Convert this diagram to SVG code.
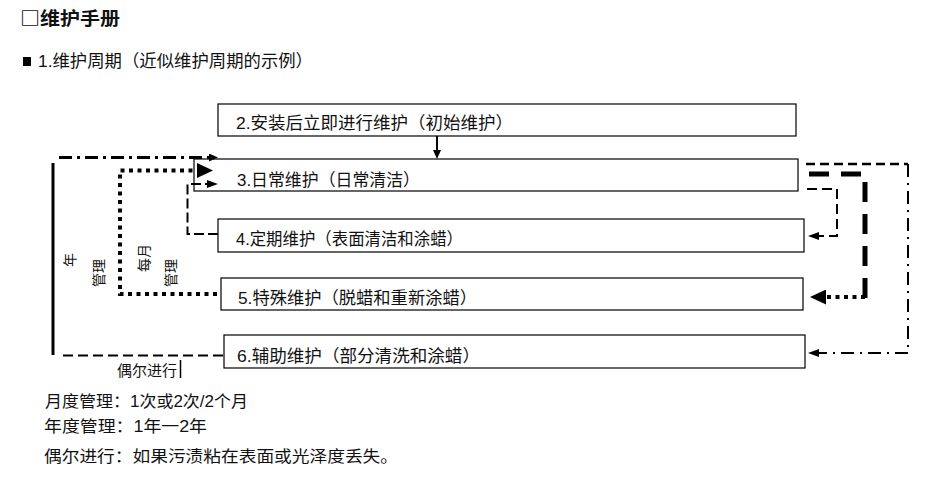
<svg xmlns="http://www.w3.org/2000/svg" width="930" height="479" viewBox="0 0 930 479">
<style>
text{font-family:"Liberation Sans","Noto Sans CJK SC",sans-serif;fill:#111;}
.t{font-size:16px;}
.b{font-size:17px;}
.v{font-size:14px;}
.box{fill:#fff;stroke:#000;stroke-width:1.2;}
.ln{fill:none;stroke:#000;}
</style>
<defs>
<marker id="aS" markerUnits="userSpaceOnUse" markerWidth="9" markerHeight="8" viewBox="0 0 9 8" refX="0" refY="4" orient="auto"><path d="M0,0 L9,4 L0,8 z" fill="#000"/></marker>
<marker id="aM" markerUnits="userSpaceOnUse" markerWidth="11" markerHeight="8" viewBox="0 0 11 8" refX="0" refY="4" orient="auto"><path d="M0,0 L11,4 L0,8 z" fill="#000"/></marker>
<marker id="aL" markerUnits="userSpaceOnUse" markerWidth="16" markerHeight="15" viewBox="0 0 16 15" refX="0" refY="7.5" orient="auto"><path d="M0,0 L16,7.5 L0,15 z" fill="#000"/></marker>
</defs>
<rect width="930" height="479" fill="#fff"/>
<text x="20" y="25" style="font-size:18px;font-weight:bold;font-family:'Noto Sans CJK SC',sans-serif" textLength="100" lengthAdjust="spacingAndGlyphs">□维护手册</text>
<rect x="23" y="57" width="8" height="9" fill="#000"/>
<text class="b" x="38" y="67" textLength="275" lengthAdjust="spacingAndGlyphs">1.维护周期（近似维护周期的示例）</text>
<g id="node2"><rect class="box" x="218" y="104" width="578" height="32"/><text class="b" x="236" y="128.5" textLength="277" lengthAdjust="spacingAndGlyphs">2.安装后立即进行维护（初始维护）</text></g>
<g id="node3"><rect class="box" x="194" y="159" width="604" height="32"/><text class="b" x="237" y="185.5" textLength="183" lengthAdjust="spacingAndGlyphs">3.日常维护（日常清洁）</text></g>
<g id="node4"><rect class="box" x="218" y="219" width="586" height="33"/><text class="b" x="236" y="244.5" textLength="227" lengthAdjust="spacingAndGlyphs">4.定期维护（表面清洁和涂蜡）</text></g>
<g id="node5"><rect class="box" x="221" y="278" width="582" height="32"/><text class="b" x="238" y="304" textLength="239" lengthAdjust="spacingAndGlyphs">5.特殊维护（脱蜡和重新涂蜡）</text></g>
<g id="node6"><rect class="box" x="224" y="335" width="581" height="33"/><text class="b" x="237" y="362" textLength="243" lengthAdjust="spacingAndGlyphs">6.辅助维护（部分清洗和涂蜡）</text></g>
<g id="connectors">
<path class="ln" d="M437,136 V150" stroke-width="2" marker-end="url(#aS)"/>
<path class="ln" d="M59,157.5 H209" stroke-width="3" stroke-dasharray="13 5 3 5" marker-end="url(#aS)"/>
<path class="ln" d="M53,163 V355" stroke-width="3"/>
<path class="ln" d="M63,355.5 H224" stroke-width="2" stroke-dasharray="10 5"/>
<path class="ln" d="M217,294 H120 V170.5 H197" stroke-width="4" stroke-dasharray="4 4.5" marker-end="url(#aL)"/>
<path class="ln" d="M218,234 H187.5 V184 H207" stroke-width="2" stroke-dasharray="10 4" marker-end="url(#aM)"/>
<path class="ln" d="M806,164 H908" stroke-width="2.5" stroke-dasharray="9 5"/>
<path class="ln" d="M908,164 V353 H819" stroke-width="2" stroke-dasharray="13 6 2 6" marker-end="url(#aM)"/>
<path class="ln" d="M809,174 H865 V303" stroke-width="5" stroke-dasharray="20 12"/>
<path class="ln" d="M865,297 H826" stroke-width="4" stroke-dasharray="4 4.5" marker-end="url(#aL)"/>
<path class="ln" d="M807,189 H837 V236 H819" stroke-width="2" stroke-dasharray="10 5" marker-end="url(#aM)"/>
</g>
<text class="v" text-anchor="middle" transform="translate(75,260) rotate(-90)">年</text>
<text class="v" text-anchor="middle" transform="translate(104,273) rotate(-90)">管理</text>
<text class="v" text-anchor="middle" transform="translate(148.5,258) rotate(-90)">每月</text>
<text class="v" text-anchor="middle" transform="translate(176,273) rotate(-90)">管理</text>
<text x="117" y="376" style="font-size:15px" textLength="60" lengthAdjust="spacingAndGlyphs">偶尔进行</text>
<line x1="180.5" y1="360" x2="180.5" y2="378" stroke="#000" stroke-width="1.5"/>
<text class="t" x="45" y="406.5" textLength="203" lengthAdjust="spacingAndGlyphs">月度管理：1次或2次/2个月</text>
<text class="t" x="44" y="431.5" textLength="163" lengthAdjust="spacingAndGlyphs">年度管理：1年一2年</text>
<text class="t" x="44" y="461.5" textLength="354" lengthAdjust="spacingAndGlyphs">偶尔进行：如果污渍粘在表面或光泽度丢失。</text>
</svg>
